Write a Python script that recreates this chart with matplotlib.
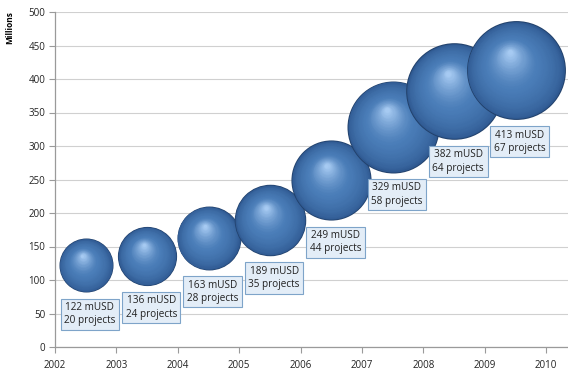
import numpy as np
import matplotlib
matplotlib.use("Agg")
import matplotlib.pyplot as plt
from matplotlib.transforms import offset_copy
from matplotlib.colors import to_rgb

years = [2002, 2003, 2004, 2005, 2006, 2007, 2008, 2009]
musd = [122, 136, 163, 189, 249, 329, 382, 413]
projects = [20, 24, 28, 35, 44, 58, 64, 67]
xticks = [2002, 2003, 2004, 2005, 2006, 2007, 2008, 2009, 2010]
yticks = [0, 50, 100, 150, 200, 250, 300, 350, 400, 450, 500]

DPI = 100
fig = plt.figure(figsize=(5.68, 3.74), dpi=DPI)
ax = fig.add_axes([55 / 568, 1 - 347 / 374, 1 - 55 / 568, (347 - 12) / 374])
FAM = ['Open Sans', 'DejaVu Sans']

ax.set_xlim(2002, 2002 + (568 - 55) / 61.4)
ax.set_ylim(0, 500)
ax.set_xticks(xticks)
ax.set_yticks(yticks)
ax.tick_params(axis='both', labelsize=7, colors='#222222', length=4, width=0.8,
               color='#9a9a9a', pad=3)
ax.tick_params(axis='x', pad=5)
for t in ax.get_xticklabels() + ax.get_yticklabels():
    t.set_family(FAM)
ax.grid(axis='y', color='#d0d0d0', linewidth=0.8)
ax.set_axisbelow(True)
for s in ['top', 'right']:
    ax.spines[s].set_visible(False)
for s in ['left', 'bottom']:
    ax.spines[s].set_color('#9a9a9a')
    ax.spines[s].set_linewidth(0.9)

fig.text(10 / 568, 1 - 28 / 374, 'Millions', rotation=90, fontsize=6, fontweight='bold',
         ha='center', va='center', family=FAM)

k_px = 6.04  # radius in px per sqrt(project)
rim = np.array(to_rgb('#22416b'))
edge = np.array(to_rgb('#2e5890'))
mid = np.array(to_rgb('#4a7db8'))
light = np.array(to_rgb('#a6caf2'))
N1, N2 = 30, 30


def layer(x, v, s, f, dx, dy, col, z):
    tr = offset_copy(ax.transData, fig=fig, x=dx, y=dy, units='points')
    ax.scatter([x], [v], s=s * f * f, color=col, zorder=z, linewidths=0, transform=tr)


for i, (yr, v, n) in enumerate(zip(years, musd, projects)):
    x = yr + 0.5
    r_px = k_px * np.sqrt(n)
    r_pt = r_px * 72 / DPI
    s = (2 * r_pt) ** 2
    z = 3 + i
    ax.scatter([x], [v], s=s, color=rim, zorder=z, linewidths=0)
    # body: dark edge to mid colour
    c1 = np.array([-0.08, 0.12]) * r_pt
    for j in range(N1):
        t = j / (N1 - 1)
        f = 0.98 - 0.45 * t
        col = edge * (1 - t ** 0.6) + mid * t ** 0.6
        layer(x, v, s, f, c1[0] * t, c1[1] * t, col, z)
    # highlight
    c2 = np.array([-0.12, 0.36]) * r_pt
    for j in range(N2):
        t = j / (N2 - 1)
        f = 0.53 * (1 - t) + 0.05 * t
        col = mid * (1 - t ** 1.4) + light * t ** 1.4
        p = c1 * (1 - t) + c2 * t
        layer(x, v, s, f, p[0], p[1], col, z)
    off = -(r_px + 22) * 72 / DPI
    ax.annotate(f'{v} mUSD\n{n} projects', xy=(x, v), xytext=(3, off),
                textcoords='offset points', ha='center', va='center',
                fontsize=7.2, color='#222222', zorder=20, linespacing=1.3,
                family=FAM,
                bbox=dict(boxstyle='square,pad=0.35', fc='#e3edf7', ec='#7ea4c9', lw=0.8))

fig.savefig('out.png', dpi=DPI)
